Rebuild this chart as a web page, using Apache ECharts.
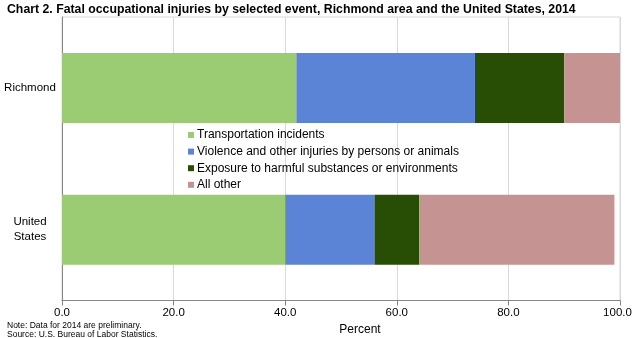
<!DOCTYPE html>
<html><head><meta charset="utf-8">
<script src="https://cdn.jsdelivr.net/npm/echarts@6/dist/echarts.min.js"></script>
<style>html,body{margin:0;padding:0;background:#fff}#c{width:632px;height:338px}</style>
</head><body><div id="c"></div>
<script>
const categories = ['Richmond', 'United\nStates'];
const seriesNames = ['Transportation incidents','Violence and other injuries by persons or animals','Exposure to harmful substances or environments','All other'];
const transportation = [42, 40];
const violence = [32, 16];
const exposure = [16, 8];
const allOther = [10, 35];
const xTicks = [0, 20, 40, 60, 80, 100];
const colors = ['#9BCB72', '#5B84D6', '#284D05', '#C49392'];
const values = [transportation, violence, exposure, allOther];

const chart = echarts.init(document.getElementById('c'), null, {renderer: 'canvas'});
const font = 'Arial, "Liberation Sans", sans-serif';
const xMax = xTicks[xTicks.length-1];
chart.setOption({
  animation: false,
  color: colors,
  textStyle: {fontFamily: font},
  legend: {
    orient: 'vertical', left: 183, top: 124,
    itemWidth: 6, itemHeight: 6, itemGap: 4.6, icon: 'rect',
    textStyle: {fontSize: 12, color: '#000', padding: [0,0,0,-2]},
    data: seriesNames
  },
  grid: {left: 62, right: 12, top: 17, bottom: 37.5, outerBoundsMode: 'none', containLabel: false,
    show: true, borderColor: '#d9d9d9', borderWidth: 1},
  xAxis: {
    type: 'value', min: xTicks[0], max: xMax, interval: 20,
    name: 'Percent', nameLocation: 'middle', nameGap: 20,
    nameTextStyle: {fontSize: 12, color: '#000', padding: [0,0,0,38]},
    axisLine: {show: true, lineStyle: {color: '#868686'}},
    axisTick: {show: true, length: 5, lineStyle: {color: '#868686'}},
    axisLabel: {fontSize: 11.5, color: '#000', margin: 6,
      formatter: v => v === xMax ? '{r|' + v.toFixed(1) + '}' : v.toFixed(1),
      rich: {r: {fontSize: 11.5, color: '#000', padding: [0, 5, 0, 0]}}},
    splitLine: {show: true, lineStyle: {color: '#d9d9d9'}}
  },
  yAxis: {
    type: 'category', data: categories, inverse: true,
    axisLine: {show: true, lineStyle: {color: '#868686'}},
    axisTick: {show: false},
    axisLabel: {fontSize: 11.5, color: '#000', margin: 9, lineHeight: 15,
      formatter: v => '{a|' + v + '}',
      rich: {a: {fontSize: 11.5, lineHeight: 15, width: 46, align: 'center', color: '#000'}}}
  },
  series: values.map((d, i) => ({
    name: seriesNames[i], type: 'bar', stack: 'total', data: d, barWidth: 70
  }))
});
chart.setOption({
  graphic: [
    {type: 'text', x: 7, y: 9, scaleX: 0.91, style: {text: 'Chart 2. Fatal occupational injuries by selected event, Richmond area and the United States, 2014', fontSize: 13.5, fontWeight: 'bold', fill: '#000', fontFamily: font, verticalAlign: 'middle'}},
    {type: 'text', left: 7, top: 321.5, style: {text: 'Note: Data for 2014 are preliminary.', fontSize: 8.5, fill: '#000', fontFamily: font}},
    {type: 'text', left: 7, top: 330.5, style: {text: 'Source: U.S. Bureau of Labor Statistics.', fontSize: 8.5, fill: '#000', fontFamily: font}}
  ]
});
</script></body></html>
